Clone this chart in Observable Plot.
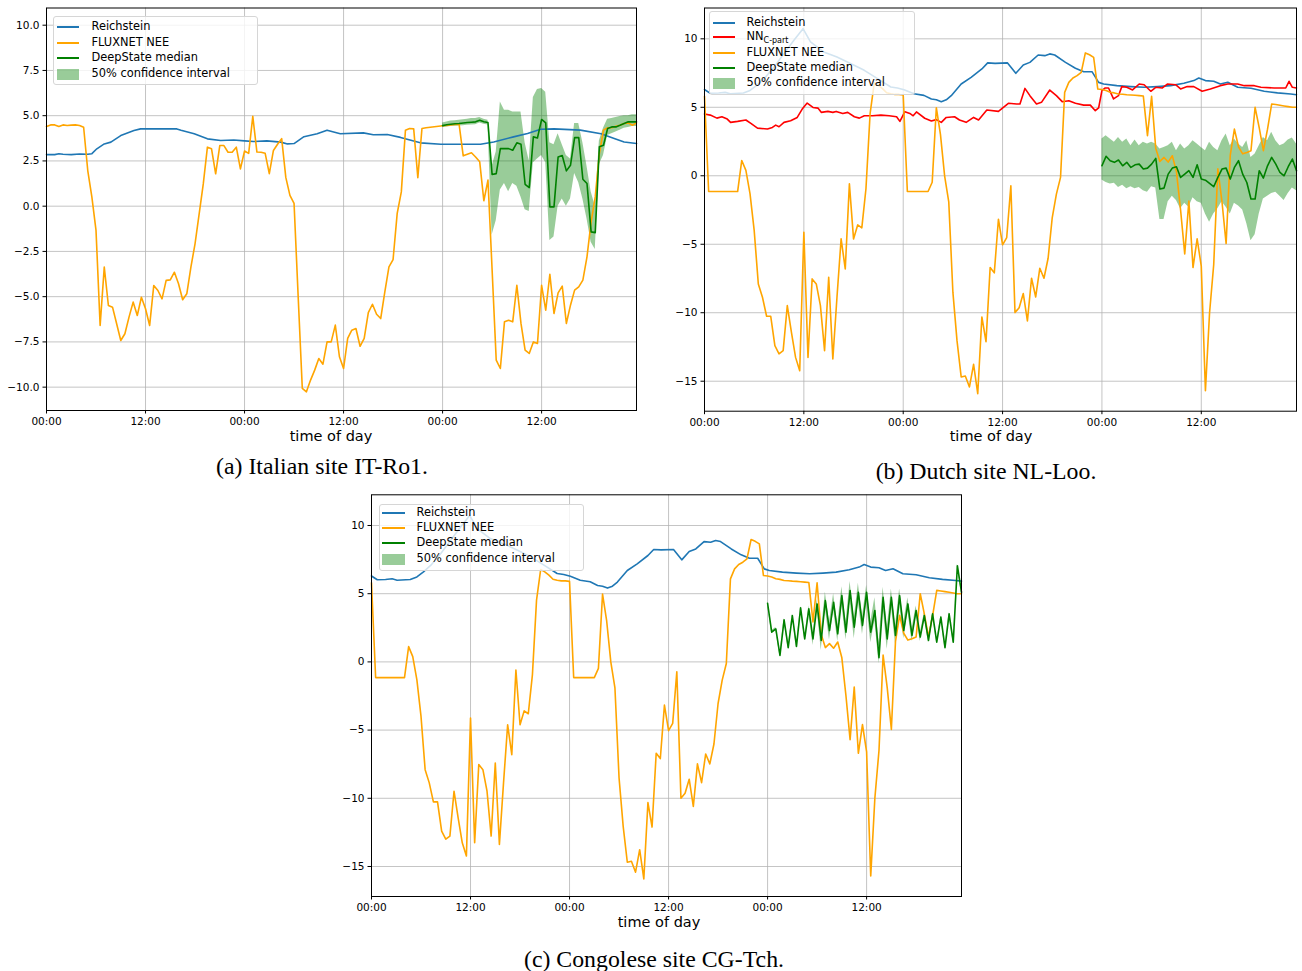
<!DOCTYPE html>
<html><head><meta charset="utf-8">
<script src="https://cdn.jsdelivr.net/npm/d3@7"></script>
<script src="https://cdn.jsdelivr.net/npm/@observablehq/plot@0.6"></script>
<style>
body{margin:0;background:#fff;}
#page{position:relative;width:1302px;height:971px;overflow:hidden;background:#fff;font-family:"DejaVu Sans",sans-serif;color:#000;}
.abs{position:absolute;}
.cap{position:absolute;font-family:"Liberation Serif","Times New Roman",serif;font-size:23.8px;white-space:nowrap;transform:translate(-50%,-50%);}
.xl{position:absolute;font-size:14.5px;white-space:nowrap;transform:translate(-50%,-50%);}
.legend{position:absolute;background:rgba(255,255,255,0.8);border:1px solid #d6d6d6;border-radius:3px;box-sizing:border-box;}
.lt{position:absolute;font-size:11.4px;white-space:nowrap;transform:translateY(-50%);line-height:1;}
.hp{position:absolute;}
</style>
</head><body><div id="page"></div>
<script>
// ---------- shared axis values ----------
const xTicks = [0, 12, 24, 36, 48, 60];
const xTickLabels = ["00:00", "12:00", "00:00", "12:00", "00:00", "12:00"];
const yTicksA = [-10, -7.5, -5, -2.5, 0, 2.5, 5, 7.5, 10];
const yTicksB = [-15, -10, -5, 0, 5, 10];

// ---------- (a) Italian site IT-Ro1 ----------
const reichA_t = [0,1,1.5,2,3,4,5,5.5,6.1,7,7.8,9,10.6,11.4,13,15.8,16.3,17.9,19.5,21.1,22.7,24,25.1,26.7,28.4,29.2,30,31.2,32.8,34,35.6,38.4,39.6,41.3,42.9,45.3,47.8,50.3,52.6,54.2,56.6,58.3,59.9,61.5,64.7,67.2,68.8,70,71.5];
const reichA_v = [2.85,2.85,2.9,2.87,2.85,2.88,2.87,2.9,3.17,3.44,3.54,3.9,4.18,4.27,4.27,4.27,4.2,4.0,3.72,3.63,3.66,3.61,3.57,3.61,3.54,3.44,3.46,3.84,4.0,4.2,4.0,4.05,3.95,3.96,3.8,3.5,3.42,3.42,3.42,3.55,3.83,4.02,4.25,4.27,4.2,4.0,3.74,3.55,3.46];
const fluxA = [
 4.4,4.49,4.49,4.4,4.49,4.46,4.48,4.49,4.46,4.36,1.97,0.5,
 -1.34,-6.59,-3.37,-5.49,-5.58,-6.5,-7.42,-7.05,-6.13,-5.3,-6.04,-5.03,
 -5.67,-6.59,-4.38,-4.66,-5.12,-4.1,-4.07,-3.65,-4.29,-5.17,-4.84,-3.37,
 -2.08,-0.42,1.23,3.26,3.17,1.79,3.35,3.35,2.98,2.98,3.26,2.06,
 3.05,2.92,4.96,2.99,2.98,2.92,1.8,3.08,3.42,3.73,1.59,0.6,
 0.16,-5.0,-10.07,-10.26,-9.61,-9.06,-8.42,-8.73,-7.5,-7.5,-6.57,-8.32,
 -8.97,-7.31,-6.85,-6.76,-7.74,-7.31,-5.88,-5.42,-5.97,-6.21,-4.73,-3.35,
 -2.95,-0.4,0.79,4.2,4.29,4.27,1.58,4.29,4.33,4.36,4.39,4.42,
 4.44,4.46,4.49,4.51,4.53,2.78,2.87,2.95,2.72,2.45,0.3,1.44,
 -3.5,-8.51,-8.97,-6.39,-6.3,-6.39,-4.37,-6.48,-7.96,-8.14,-7.5,-7.59,
 -4.37,-5.75,-3.76,-5.93,-4.79,-4.42,-6.48,-5.47,-4.64,-4.46,-4.09,-2.8,
 -0.87,0.51,2.91,4.2,4.33,4.33,4.42,4.47,4.57,4.6,4.47,4.6];
const medA = [4.45,4.5,4.53,4.55,4.57,4.6,4.62,4.64,4.66,4.75,4.66,4.62,1.75,1.8,3.18,3.18,3.18,3.09,3.5,3.42,1.21,1.03,3.83,3.77,4.79,4.6,-0.04,-0.04,2.72,2.8,1.95,2.26,3.79,3.79,1.49,1.25,-1.42,-1.46,3.28,3.37,4.29,4.38,4.38,4.47,4.57,4.66,4.66,4.66];
const hiA = [4.6,4.65,4.7,4.72,4.75,4.78,4.8,4.85,4.85,4.9,4.8,4.75,2.2,3.0,5.76,5.3,5.3,5.2,5.2,5.2,3.5,2.5,6.0,6.45,6.5,6.3,3.5,3.4,4.0,3.4,2.8,2.6,4.57,4.57,3.5,2.2,0.8,0.0,3.6,4.3,4.8,4.85,4.9,4.95,5.0,5.0,5.05,5.05];
const loA = [4.35,4.38,4.4,4.42,4.43,4.45,4.47,4.48,4.5,4.6,4.52,4.48,-1.6,-0.8,0.9,1.25,0.8,1.25,1.1,0.5,-0.2,-0.3,2.4,2.6,2.8,2.4,-1.9,-1.7,0.0,0.4,0.0,0.4,1.8,1.3,0.4,-0.7,-2.0,-2.4,2.3,2.8,3.9,4.0,4.1,4.2,4.3,4.35,4.4,4.4];

// ---------- (b) Dutch site NL-Loo  (Reichstein / FLUXNET shared with (c)) ----------
const reichB_t = [0,0.7,1.7,2.5,3.1,4.7,5.5,6.3,7.2,8.4,9.6,10.8,11.9,12.8,14.4,16,17.7,19.3,20.9,22.5,23.3,24.1,25.3,26.5,27.4,28,28.6,29.2,29.8,31,32.2,33.5,34.2,35.1,36.6,37.6,38.5,39.3,40.3,41.1,41.7,42.3,43.6,44.8,45.8,46.8,47.6,48.2,49.8,51.5,53.1,54.7,56.3,57.9,59.1,59.7,60.5,61.5,62.3,63.2,64.4,66,67.6,69.2,70.8,71.5];
const reichB_v = [6.3,6.02,6.04,6.09,5.99,6.04,6.23,6.6,7.09,7.94,8.92,9.89,10.74,9.77,9.04,8.67,8.18,7.7,7.09,6.48,6.41,6.28,5.99,5.87,5.6,5.55,5.41,5.55,5.85,6.7,7.19,7.8,8.24,8.21,8.24,7.48,8.09,8.28,8.82,8.77,8.9,8.82,8.28,7.85,7.6,7.6,6.82,6.7,6.58,6.51,6.46,6.51,6.58,6.75,6.95,7.14,6.95,6.9,6.7,6.83,6.46,6.39,6.17,6.05,5.97,5.92];
const nnB_t = [0,0.7,1.5,2.1,2.75,3.15,4,5,5.6,6.4,7.6,8.2,8.6,9,9.6,10.4,11.2,11.8,12.4,13.1,13.7,14.1,14.9,15.5,15.9,16.7,17.3,18.1,18.7,19.3,20.3,21.3,22.3,23.2,23.6,24.2,24.8,25.2,25.6,26.6,27.4,28,28.6,29.2,30.2,30.8,31.6,32.5,33.1,34.1,35.5,36.7,37.7,38.1,38.7,39.3,40.1,40.7,41.7,42.5,43.2,44,44.8,45.8,46.6,47.2,47.6,48,48.4,48.8,49.4,50,50.4,51,51.7,52.5,53.1,53.9,54.5,55.3,55.9,56.9,57.5,58.3,59.1,60.1,61.1,62.3,63.2,64.4,65.2,66.4,67.2,68.8,70.2,70.6,71,71.5];
const nnB_v = [4.51,4.43,4.21,4.31,4.14,3.9,3.97,4.07,3.82,3.48,3.41,3.53,3.7,3.58,3.9,4.02,4.26,4.87,5.31,4.99,4.94,4.63,4.7,4.63,4.7,4.55,4.63,4.31,4.21,4.38,4.38,4.43,4.38,4.31,3.97,4.68,4.55,4.38,4.66,4.2,4.0,4.1,3.9,4.26,4.31,4.07,3.9,4.26,4.07,4.8,4.7,5.29,5.24,5.24,6.38,5.85,5.24,5.36,6.26,5.85,5.41,5.48,5.29,5.16,5.16,4.75,4.95,6.22,6.41,6.41,5.61,5.85,6.51,6.46,6.27,6.7,6.65,6.17,6.46,6.41,6.7,6.65,6.34,6.51,6.51,6.17,6.34,6.58,6.7,6.7,6.58,6.58,6.46,6.41,6.41,6.9,6.46,6.41];
const fluxB = [
 5.8,-1.15,-1.15,-1.15,-1.15,-1.15,-1.15,-1.15,-1.15,1.12,0.39,-1.32,
 -3.99,-7.9,-8.87,-10.26,-10.26,-12.4,-13.0,-12.77,-9.48,-11.43,-13.26,-14.23,
 -4.12,-13.26,-7.53,-7.9,-9.48,-12.77,-7.41,-13.38,-8.87,-4.61,-6.8,-0.59,
 -4.61,-3.59,-3.8,-0.95,4.53,6.77,6.6,6.36,6.06,5.99,5.94,5.94,
 5.9,-1.15,-1.15,-1.15,-1.15,-1.15,-1.15,-0.47,4.97,3.0,0.0,-1.9,
 -8.5,-12.06,-14.69,-14.62,-15.42,-13.77,-15.91,-10.31,-12.11,-6.7,-7.09,-3.17,
 -5.04,-4.51,-0.73,-9.99,-9.63,-8.6,-10.6,-7.48,-8.85,-6.75,-7.48,-6.02,
 -3.05,-1.34,-0.12,6.09,6.82,7.14,7.31,7.55,8.97,8.84,8.65,6.33,
 6.3,6.22,6.1,6.05,5.97,5.95,5.92,5.9,5.88,5.85,5.82,2.93,
 5.8,2.0,1.05,1.34,1.0,1.46,0.3,-2.5,-5.7,-1.85,-6.7,-4.6,
 -6.6,-15.7,-10.0,-6.5,0.5,-1.9,-4.95,1.5,3.41,2.1,1.6,1.7,
 1.83,5.0,3.5,1.83,3.4,5.24,5.2,5.15,5.1,5.05,5.0,5.0];
const medB = [0.73,1.42,1.1,0.98,1.15,0.73,0.98,0.61,0.8,0.85,0.49,0.56,0.85,1.27,-0.97,-0.9,0.12,0.56,0.66,-0.12,0.12,0.37,-0.12,0.8,-0.24,-0.32,-0.56,-0.8,-0.12,0.49,0.56,-0.24,0.61,1.1,0.12,-0.49,-1.7,-1.7,0.37,-0.17,0.73,1.34,0.85,0.24,0,0.66,1.22,0.37];
const hiB = [2.68,2.93,2.68,2.44,2.8,2.44,2.68,2.2,2.61,2.2,2.44,2.32,2.44,2.32,1.95,2.07,2.2,2.44,1.83,2.32,1.95,2.2,2.56,2.32,2.07,1.83,2.44,2.07,1.83,2.56,3.05,2.2,2.68,2.32,2.07,2.56,1.34,1.59,2.2,2.8,2.56,3.17,2.56,2.2,2.32,2.61,2.76,2.32];
const loB = [-0.3,-0.5,-0.6,-0.55,-0.85,-0.7,-0.95,-0.8,-0.95,-0.85,-1.1,-1.2,-0.8,-0.9,-3.2,-3.2,-1.9,-1.5,-1.8,-2.4,-2.0,-2.3,-1.6,-1.9,-2.0,-2.8,-3.4,-2.8,-2.4,-1.9,-2.3,-2.8,-2.0,-2.2,-2.5,-3.5,-4.75,-4.3,-2.8,-1.7,-1.5,-1.3,-1.2,-1.5,-1.8,-1.3,-0.9,-1.1];

// ---------- (c) Congolese site CG-Tch ----------
const medC = [4.3,2.18,2.42,0.48,3.08,1.04,3.4,1.13,3.96,1.69,3.89,1.69,4.25,1.57,4.5,2.3,4.37,2.06,4.86,2.18,5.23,2.55,5.1,2.67,5.1,2.18,3.77,0.3,4.74,1.69,4.74,1.94,4.86,2.3,4.25,1.94,3.77,1.82,3.4,1.57,3.52,1.45,3.28,1.04,3.52,1.45,7.05,5.1];
const loC = [4.2,2.08,2.32,0.38,2.98,0.94,3.3,1.03,3.86,1.59,3.7,1.2,3.9,0.84,3.9,1.6,3.8,1.5,4.2,1.6,4.5,1.7,4.4,2.0,4.4,1.4,3.0,-0.13,4.0,0.9,4.1,1.3,4.2,1.7,3.7,1.5,3.4,1.5,3.2,1.4,3.4,1.35,3.18,0.94,3.42,1.35,6.95,5.0];
const hiC = [4.4,2.28,2.52,0.58,3.18,1.14,3.5,1.23,4.06,1.79,4.1,2.0,4.6,2.1,5.1,2.9,5.0,2.7,5.5,2.9,5.9,3.2,5.76,3.3,5.6,2.9,4.7,1.4,5.47,2.5,5.35,2.6,5.35,2.9,4.7,2.4,4.1,2.1,3.6,1.7,3.62,1.55,3.38,1.14,3.62,1.55,7.15,5.2];

// ---------- table builders ----------
const halfHours = n => Array.from({length: n}, (_, i) => i * 0.5);
const series = (t, v) => t.map((x, i) => ({t: x, v: v[i]}));
const regular = v => series(halfHours(v.length), v);
const band = (med, lo, hi) => med.map((m, i) => ({t: 48 + i * 0.5, m, lo: lo[i], hi: hi[i]}));

const C_BLUE = "#1f77b4", C_ORANGE = "orange", C_RED = "red", C_GREEN = "green";

function panel({yDomain, yTicks, yFormat, lines, ds, width, height, ml, mr, mt, mb}) {
  const marks = [
    Plot.ruleX(xTicks, {x: d => d, stroke: "#b0b0b0", strokeOpacity: 0.75, strokeWidth: 1}),
    Plot.ruleY(yTicks, {y: d => d, stroke: "#b0b0b0", strokeOpacity: 0.75, strokeWidth: 1}),
    Plot.areaY(ds, {x: "t", y1: "lo", y2: "hi", fill: C_GREEN, fillOpacity: 0.4, curve: "linear"})
  ];
  for (const l of lines) marks.push(Plot.line(l.data, {x: "t", y: "v", stroke: l.color, strokeWidth: 1.6}));
  marks.push(Plot.line(ds, {x: "t", y: "m", stroke: C_GREEN, strokeWidth: 1.6}));
  marks.push(Plot.frame({stroke: "#000", strokeWidth: 1}));
  return Plot.plot({
    width, height, marginLeft: ml, marginRight: mr, marginTop: mt, marginBottom: mb,
    style: {fontFamily: "DejaVu Sans", fontSize: "10.5px", background: "transparent", color: "#000", overflow: "visible"},
    x: {domain: [0, 71.5], ticks: xTicks, tickFormat: d => xTickLabels[xTicks.indexOf(d)], tickSize: 3.5, tickPadding: 4, label: null},
    y: {domain: yDomain, ticks: yTicks, tickFormat: yFormat, tickSize: 3.5, tickPadding: 3.5, label: null},
    marks
  });
}

const page = document.getElementById("page");
function place(node, left, top) {
  const d = document.createElement("div");
  d.className = "abs"; d.style.left = left + "px"; d.style.top = top + "px";
  d.appendChild(node); page.appendChild(d);
}
function text(cls, html, x, y) {
  const d = document.createElement("div");
  d.className = cls; d.innerHTML = html; d.style.left = x + "px"; d.style.top = y + "px";
  page.appendChild(d);
}
function legend(box, hx0, hx1, tx, rows) {
  const L = document.createElement("div");
  L.className = "legend";
  L.style.left = box[0] + "px"; L.style.top = box[1] + "px";
  L.style.width = (box[2] - box[0]) + "px"; L.style.height = (box[3] - box[1]) + "px";
  page.appendChild(L);
  for (const r of rows) {
    const h = document.createElement("div");
    h.className = "hp";
    h.style.left = hx0 + "px"; h.style.width = (hx1 - hx0) + "px";
    if (r.kind === "patch") {
      h.style.top = (r.y - 5.5) + "px"; h.style.height = "11px";
      h.style.background = "rgba(0,128,0,0.4)";
    } else {
      h.style.top = (r.y - 1) + "px"; h.style.height = "2px";
      h.style.background = r.color;
    }
    page.appendChild(h);
    text("lt", r.label, tx, r.y);
  }
}

const fmtA = d3.format(".1f"), fmtB = d3.format("d");
const dsA = band(medA, loA, hiA), dsB = band(medB, loB, hiB), dsC = band(medC, loC, hiC);
const reichB = series(reichB_t, reichB_v), fluxBData = regular(fluxB);

place(panel({yDomain: [-11.29, 10.95], yTicks: yTicksA, yFormat: fmtA,
  lines: [{data: series(reichA_t, reichA_v), color: C_BLUE}, {data: regular(fluxA), color: C_ORANGE}],
  ds: dsA, width: 650, height: 440, ml: 46, mr: 14, mt: 7.5, mb: 30}), 0, 0);

place(panel({yDomain: [-17.19, 12.25], yTicks: yTicksB, yFormat: fmtB,
  lines: [{data: reichB, color: C_BLUE}, {data: series(nnB_t, nnB_v), color: C_RED}, {data: fluxBData, color: C_ORANGE}],
  ds: dsB, width: 647, height: 440, ml: 49, mr: 6, mt: 7.5, mb: 29.3}), 655, 0);

place(panel({yDomain: [-17.2, 12.25], yTicks: yTicksB, yFormat: fmtB,
  lines: [{data: reichB, color: C_BLUE}, {data: fluxBData, color: C_ORANGE}],
  ds: dsC, width: 660, height: 440, ml: 51, mr: 19, mt: 8.3, mb: 30}), 320, 486);

text("xl", "time of day", 331, 436);
text("xl", "time of day", 991, 436);
text("xl", "time of day", 659, 922);
text("cap", "(a) Italian site IT-Ro1.", 322, 466);
text("cap", "(b) Dutch site NL-Loo.", 986, 471);
text("cap", "(c) Congolese site CG-Tch.", 654, 959);

legend([53, 15.5, 258, 85], 57, 79, 91.5, [
  {kind: "line", color: C_BLUE, y: 26.7, label: "Reichstein"},
  {kind: "line", color: C_ORANGE, y: 42.7, label: "FLUXNET NEE"},
  {kind: "line", color: C_GREEN, y: 58.3, label: "DeepState median"},
  {kind: "patch", y: 74, label: "50% confidence interval"}]);
legend([709, 11, 915, 95], 712.7, 735.3, 746.5, [
  {kind: "line", color: C_BLUE, y: 22.7, label: "Reichstein"},
  {kind: "line", color: C_RED, y: 37.3, label: 'NN<span style="font-size:8px;position:relative;top:3px;">C-part</span>'},
  {kind: "line", color: C_ORANGE, y: 53.3, label: "FLUXNET NEE"},
  {kind: "line", color: C_GREEN, y: 68.3, label: "DeepState median"},
  {kind: "patch", y: 83.3, label: "50% confidence interval"}]);
legend([379, 504, 584, 571], 382.3, 405, 416.5, [
  {kind: "line", color: C_BLUE, y: 512.7, label: "Reichstein"},
  {kind: "line", color: C_ORANGE, y: 528.3, label: "FLUXNET NEE"},
  {kind: "line", color: C_GREEN, y: 543.3, label: "DeepState median"},
  {kind: "patch", y: 559.3, label: "50% confidence interval"}]);
</script>
</body></html>
